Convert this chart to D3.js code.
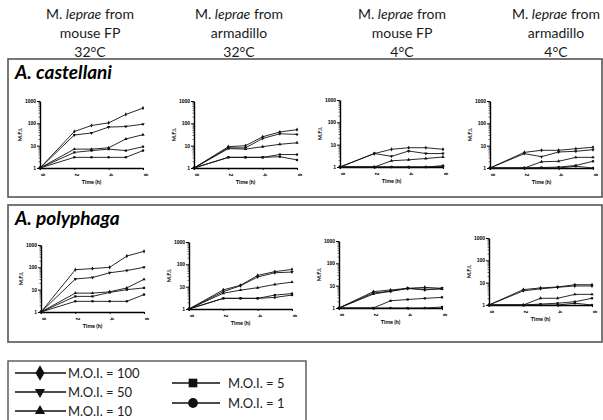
<!DOCTYPE html>
<html>
<head>
<meta charset="utf-8">
<script src="https://cdn.jsdelivr.net/npm/d3@7"></script>
<style>
  body { margin: 0; background: #fff; }
  svg { font-family: Lato, "Open Sans", sans-serif; }
</style>
</head>
<body>
<svg id="chart" width="603" height="420"></svg>
<script>
var times = [0, 2, 3, 4, 5, 6];
var xTicks = [0, 2, 4, 6];
var yTicks = [1, 10, 100, 1000];
var amoebae = ['A. castellani', 'A. polyphaga'];
var sources = ['mouse FP', 'armadillo', 'mouse FP', 'armadillo'];
var temps = ['32°C', '32°C', '4°C', '4°C'];
var moiLabels = ['M.O.I. = 100', 'M.O.I. = 50', 'M.O.I. = 10', 'M.O.I. = 5', 'M.O.I. = 1'];

// each panel: series in order M.O.I. 100, 50, 10, 5, 1
var castMouse32 = [
  [1, 43, 80, 105, 250, 480],
  [1, 30, 37, 68, 72, 92],
  [1, 7, 7, 8, 20, 31],
  [1, 5, 6, 7, 6, 9],
  [1, 3, 3, 3, 3, 6]
];
var castArma32 = [
  [1, 9, 10, 25, 41, 52],
  [1, 8, 8, 21, 34, 32],
  [1, 7.4, 7, 9, 11.5, 13.5],
  [1, 3, 3, 3, 4, 4],
  [1, 3, 3, 3, 3.2, 2.3]
];
var castMouse4 = [
  [1, 4, 6.2, 7.3, 7.3, 6.2],
  [1, 4, 3, 5.2, 4, 4],
  [1, 1, 1.9, 2.1, 2.4, 2.8],
  [1, 1, 1, 1, 1, 1.15],
  [1, 1, 1, 1, 1, 1.05]
];
var castArma4 = [
  [1, 5, 6.2, 6.2, 7.3, 8.5],
  [1, 4.4, 3.2, 5.2, 5.6, 6.6],
  [1, 1, 1.9, 2, 3, 3],
  [1, 1, 1.05, 1.1, 1.3, 2],
  [1, 1, 1, 1, 1.2, 1]
];
var polyMouse32 = [
  [1, 78, 88, 100, 320, 520],
  [1, 30, 35, 57, 72, 100],
  [1, 7, 7, 8, 12, 29],
  [1, 5, 5, 7.5, 10, 12],
  [1, 3, 3, 3, 3, 6]
];
var polyArma32 = [
  [1, 7.2, 11.5, 32, 47, 59],
  [1, 6, 11, 27, 42, 45],
  [1, 5.1, 7, 9, 12.6, 16],
  [1, 3, 3, 3, 4.2, 4.9],
  [1, 3, 3, 3, 3.3, 4.2]
];
var polyMouse4 = [
  [1, 5.4, 6.4, 7.6, 8.4, 7.6],
  [1, 4.7, 5.6, 7.6, 6.4, 7.6],
  [1, 4.2, 5.6, 7.5, 7, 7],
  [1, 1, 2.1, 2.4, 2.7, 3],
  [1, 1, 1, 1, 1, 1.1]
];
var polyArma4 = [
  [1, 4.9, 5.8, 6.4, 8.1, 8.1],
  [1, 4.3, 5.3, 6.2, 7.1, 7.1],
  [1, 1, 2, 2, 3, 3],
  [1, 1, 1.1, 1.2, 1.4, 2],
  [1, 1, 1, 1, 1.2, 1]
];
var panels = [
  [castMouse32, castArma32, castMouse4, castArma4],
  [polyMouse32, polyArma32, polyMouse4, polyArma4]
];

var svg = d3.select('#chart');

var markers = [
  { type: d3.symbolDiamond, rot: 0 },
  { type: d3.symbolTriangle, rot: 180 },
  { type: d3.symbolTriangle, rot: 0 },
  { type: d3.symbolSquare, rot: 0 },
  { type: d3.symbolCircle, rot: 0 }
];

// Column headers
var headX = [90, 239, 402, 556];
headX.forEach(function (cx, i) {
  var t = svg.append('text')
    .attr('x', cx).attr('y', 19)
    .attr('text-anchor', 'middle')
    .attr('font-size', '14px')
    .attr('fill', '#1a1a1a');
  t.append('tspan').text('M. ');
  t.append('tspan').attr('font-style', 'italic').text('leprae');
  t.append('tspan').text(' from');
  svg.append('text').attr('x', cx).attr('y', 38)
    .attr('text-anchor', 'middle').attr('font-size', '14px').attr('fill', '#1a1a1a')
    .text(sources[i]);
  svg.append('text').attr('x', cx).attr('y', 57)
    .attr('text-anchor', 'middle').attr('font-size', '14px').attr('fill', '#1a1a1a')
    .text(temps[i]);
});

// Boxes and titles
var boxY = [59, 205];
var boxH = [138, 137];
amoebae.forEach(function (name, r) {
  svg.append('rect')
    .attr('x', 8).attr('y', boxY[r])
    .attr('width', 594).attr('height', boxH[r])
    .attr('fill', 'none').attr('stroke', '#555').attr('stroke-width', 1.6);
  svg.append('text')
    .attr('x', 15).attr('y', boxY[r] + 20)
    .attr('font-size', '19px').attr('font-weight', 'bold').attr('font-style', 'italic')
    .text(name);
});

// Panels
var colX = [[40, 194, 340, 490], [41, 189, 339, 489]];
var rowTop = [[101, 101, 100, 101], [245, 242, 241, 238]];
var pw = 103, ph = 67;

var minor = [];
[1, 10, 100].forEach(function (d) {
  for (var k = 2; k <= 9; k++) minor.push(d * k);
});

panels.forEach(function (row, r) {
  row.forEach(function (series, c) {
    var x0 = colX[r][c], y0 = rowTop[r][c];
    var x = d3.scaleLinear().domain([0, 6]).range([x0, x0 + pw]);
    var y = d3.scaleLog().domain([1, 1000]).range([y0 + ph, y0]);
    var g = svg.append('g');

    // minor ticks
    g.append('g')
      .attr('transform', 'translate(' + x0 + ',0)')
      .call(d3.axisLeft(y).tickValues(minor).tickSize(1.5).tickFormat(''))
      .call(function (a) { a.select('.domain').remove(); a.selectAll('line').attr('stroke-width', 0.6); });

    var ya = g.append('g')
      .attr('transform', 'translate(' + x0 + ',0)')
      .call(d3.axisLeft(y).tickValues(yTicks).tickSize(3).tickSizeOuter(0).tickPadding(1).tickFormat(d3.format('d')));
    ya.select('.domain').attr('stroke-width', 1.4);
    ya.selectAll('line').attr('stroke-width', 1);
    ya.selectAll('text').attr('font-size', '5px').attr('font-weight', 'bold');

    var xa = g.append('g')
      .attr('transform', 'translate(0,' + (y0 + ph) + ')')
      .call(d3.axisBottom(x).tickValues(xTicks).tickSize(2).tickSizeOuter(0).tickFormat(d3.format('d')));
    xa.select('.domain').attr('stroke-width', 1.4);
    xa.selectAll('line').attr('stroke-width', 1);
    xa.selectAll('text')
      .attr('font-size', '5px').attr('font-weight', 'bold')
      .attr('dy', 0).attr('y', 7)
      .attr('transform', 'rotate(90,0,7)')
      .attr('text-anchor', 'middle');

    g.append('text')
      .attr('x', x0 + pw / 2).attr('y', y0 + ph + 16)
      .attr('text-anchor', 'middle')
      .attr('font-size', '5.5px').attr('font-weight', 'bold')
      .text('Time (h)');
    g.append('text')
      .attr('transform', 'translate(' + (x0 - 18) + ',' + (y0 + ph / 2) + ') rotate(-90)')
      .attr('text-anchor', 'middle')
      .attr('font-size', '5.5px').attr('font-weight', 'bold')
      .text('M.F.I.');

    var line = d3.line()
      .x(function (d, i) { return x(times[i]); })
      .y(function (d) { return y(d); });

    series.forEach(function (vals, s) {
      g.append('path')
        .attr('d', line(vals))
        .attr('fill', 'none').attr('stroke', '#111').attr('stroke-width', 0.9);
      g.selectAll(null)
        .data(vals)
        .enter()
        .append('path')
        .attr('d', d3.symbol().type(markers[s].type).size(5))
        .attr('transform', function (d, i) {
          return 'translate(' + x(times[i]) + ',' + y(d) + ') rotate(' + markers[s].rot + ')';
        })
        .attr('fill', '#111');
    });
  });
});

// Legend
svg.append('rect')
  .attr('x', 8).attr('y', 361).attr('width', 298).attr('height', 70)
  .attr('fill', 'none').attr('stroke', '#555').attr('stroke-width', 1.4);

var legItems = [
  { lx: 15, mx: 40, y: 373, tx: 68 },
  { lx: 15, mx: 40, y: 392, tx: 68 },
  { lx: 15, mx: 40, y: 411, tx: 68 },
  { lx: 172, mx: 193, y: 383, tx: 228 },
  { lx: 172, mx: 193, y: 403, tx: 228 }
];
var legSizes = [70, 45, 45, 75, 75];
legItems.forEach(function (it, i) {
  svg.append('line')
    .attr('x1', it.lx).attr('x2', i < 3 ? 66 : 220)
    .attr('y1', it.y).attr('y2', it.y)
    .attr('stroke', '#111').attr('stroke-width', 1.3);
  svg.append('path')
    .attr('d', d3.symbol().type(markers[i].type).size(legSizes[i]))
    .attr('transform', 'translate(' + it.mx + ',' + it.y + ') rotate(' + markers[i].rot + ')')
    .attr('fill', '#111');
  svg.append('text')
    .attr('x', it.tx).attr('y', it.y)
    .attr('dy', '0.35em')
    .attr('font-size', '13px').attr('fill', '#222')
    .text(moiLabels[i]);
});
</script>
</body>
</html>
